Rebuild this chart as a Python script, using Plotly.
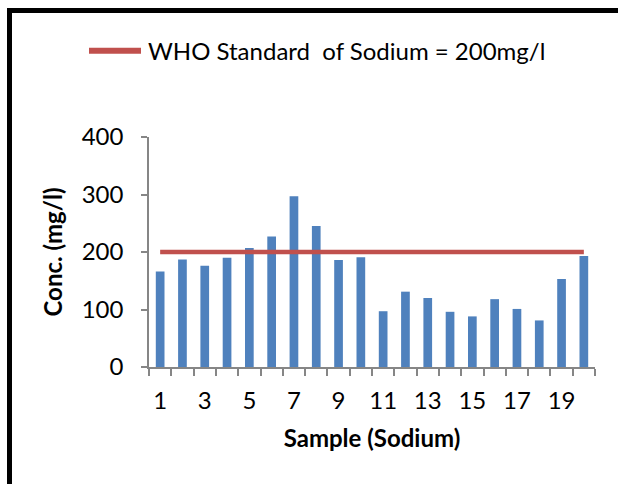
import plotly.graph_objects as go

samples = list(range(1, 21))
sodium = [166, 187, 176, 190, 207, 227, 297, 245, 186, 191,
          97, 131, 120, 96, 88, 118, 101, 81, 153, 193]
who_label = "WHO Standard\u00a0 of Sodium = 200mg/l"
who_value = 200
x_tick_vals = [1, 3, 5, 7, 9, 11, 13, 15, 17, 19]
x_tick_text = [str(v) for v in x_tick_vals]
y_tick_vals = [0, 100, 200, 300, 400]

FONT = "Lato"
AXIS = "#868686"
RED = "#C0504D"

fig = go.Figure()
fig.add_trace(go.Bar(
    x=samples, y=sodium, marker=dict(color="#4F81BD", line=dict(width=0)),
    showlegend=False, name="Sodium"))
fig.add_trace(go.Scatter(
    x=[samples[0], samples[-1]], y=[who_value, who_value], mode="lines",
    line=dict(color=RED, width=4.7), name=who_label, showlegend=False))

L, R, T, B = 149, 23, 137, 117
W, H = 618, 484
pw = W - L - R
ph = H - T - B

def px_x(x):
    return (x - L) / pw

def px_y(y):
    return (H - B - y) / ph

fig.update_layout(
    width=W, height=H,
    margin=dict(l=L, r=R, t=T, b=B, pad=0),
    paper_bgcolor="white", plot_bgcolor="white",
    font=dict(family=FONT, size=24, color="black"),
    bargap=0.61,
    showlegend=False,
    xaxis=dict(
        range=[0.5, 20.5], tickmode="array", tickvals=x_tick_vals, ticktext=x_tick_text,
        ticks="", showgrid=False, zeroline=False,
        showline=True, linecolor=AXIS, linewidth=1.5,
        ticklabelstandoff=11,
        tickfont=dict(size=24),
        minor=dict(tickmode="linear", tick0=0.5, dtick=1, ticks="outside",
                   ticklen=7, tickcolor=AXIS, tickwidth=1.5, showgrid=False),
        title=dict(text="<b>Sample (Sodium)</b>", font=dict(size=24), standoff=18),
    ),
    yaxis=dict(
        range=[0, 400], tickmode="array", tickvals=y_tick_vals,
        ticks="outside", ticklen=6, tickcolor=AXIS, tickwidth=1.5,
        showgrid=False, zeroline=False,
        showline=True, linecolor=AXIS, linewidth=1.5,
        ticklabelstandoff=13,
        tickfont=dict(size=24),
        title=dict(text="<b>Conc. (mg/l)</b>", font=dict(size=24), standoff=12),
    ),
    shapes=[
        dict(type="line", xref="paper", yref="paper",
             x0=px_x(9.5), x1=px_x(9.5), y0=px_y(8), y1=px_y(H + 10),
             line=dict(color="black", width=5), layer="above"),
        dict(type="line", xref="paper", yref="paper",
             x0=px_x(7), x1=px_x(W + 10), y0=px_y(10.5), y1=px_y(10.5),
             line=dict(color="black", width=5), layer="above"),
        dict(type="line", xref="paper", yref="paper",
             x0=px_x(89), x1=px_x(141), y0=px_y(50.7), y1=px_y(50.7),
             line=dict(color=RED, width=6), layer="above"),
    ],
    annotations=[
        dict(text=who_label, xref="paper", yref="paper",
             x=px_x(146), y=px_y(50.7), xanchor="left", yanchor="middle",
             showarrow=False, font=dict(size=24, color="black")),
    ],
)

fig.write_html("out.html")
